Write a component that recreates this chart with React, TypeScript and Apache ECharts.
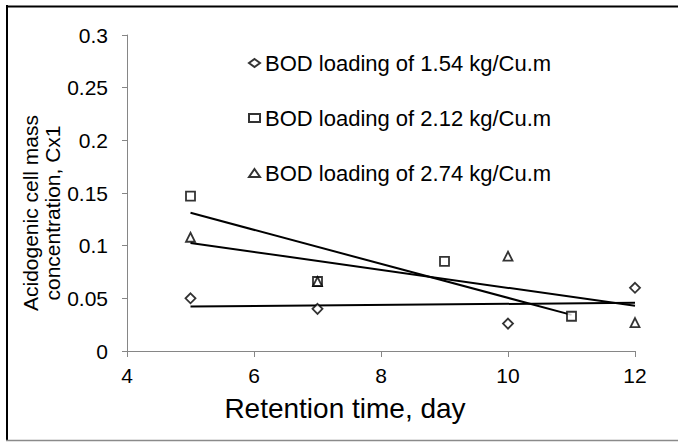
import React, { useEffect, useRef } from "react";
import * as echarts from "echarts";

const seriesNames = [
  "BOD loading of 1.54 kg/Cu.m",
  "BOD loading of 2.12 kg/Cu.m",
  "BOD loading of 2.74 kg/Cu.m",
];
const xs154 = [5, 7, 10, 12];
const ys154 = [0.05, 0.04, 0.026, 0.06];
const xs212 = [5, 7, 9, 11];
const ys212 = [0.147, 0.066, 0.085, 0.033];
const xs274 = [5, 7, 10, 12];
const ys274 = [0.108, 0.066, 0.09, 0.027];
const symbols = ["diamond", "rect", "triangle"];
const xTitle = "Retention time, day";
const yTitle = "Acidogenic cell mass\nconcentration, Cx1";

function trend(xs: number[], ys: number[]) {
  const n = xs.length;
  const mx = xs.reduce((a, b) => a + b, 0) / n;
  const my = ys.reduce((a, b) => a + b, 0) / n;
  let sxy = 0;
  let sxx = 0;
  for (let i = 0; i < n; i++) {
    sxy += (xs[i] - mx) * (ys[i] - my);
    sxx += (xs[i] - mx) * (xs[i] - mx);
  }
  const b = sxy / sxx;
  const a = my - b * mx;
  const x0 = Math.min(...xs);
  const x1 = Math.max(...xs);
  return [
    [x0, a + b * x0],
    [x1, a + b * x1],
  ];
}

const FONT = "'Liberation Sans', Arial, sans-serif";

export default function App() {
  const ref = useRef<HTMLDivElement>(null);
  useEffect(() => {
    if (!ref.current) return;
    const chart = echarts.init(ref.current, null, { renderer: "svg" });
    const sets = [
      [xs154, ys154],
      [xs212, ys212],
      [xs274, ys274],
    ];
    const scatter = sets.map(([xs, ys], i) => ({
      name: seriesNames[i],
      type: "scatter",
      symbol: symbols[i],
      symbolSize: i === 0 ? 10 : 9,
      itemStyle: { color: "#fff", borderColor: "#000", borderWidth: 1.8 },
      data: xs.map((x, j) => [x, ys[j]]),
      z: 3,
    }));
    const lines = sets.map(([xs, ys], i) => ({
      name: "trend" + i,
      type: "line",
      symbol: "none",
      lineStyle: { color: "#000", width: 2 },
      data: trend(xs, ys),
      z: 2,
    }));
    chart.setOption({
      animation: false,
      backgroundColor: "#fff",
      grid: { left: 127, right: 43, top: 35, bottom: 91 },
      legend: {
        data: seriesNames,
        orient: "vertical",
        left: 243,
        top: 47,
        itemWidth: 11,
        itemHeight: 8,
        itemGap: 33,
        textStyle: { fontFamily: FONT, fontSize: 22, color: "#000" },
      },
      xAxis: {
        type: "value",
        min: 4,
        max: 12,
        interval: 2,
        splitLine: { show: false },
        axisLine: { lineStyle: { color: "#868686", width: 1 } },
        axisTick: { show: true, length: 6, lineStyle: { color: "#868686" } },
        axisLabel: { fontFamily: FONT, fontSize: 21, color: "#000", margin: 14 },
      },
      yAxis: {
        type: "value",
        min: 0,
        max: 0.3,
        interval: 0.05,
        splitLine: { show: false },
        axisLine: { show: true, lineStyle: { color: "#868686", width: 1 } },
        axisTick: { show: true, length: 5, lineStyle: { color: "#868686" } },
        axisLabel: { fontFamily: FONT, fontSize: 21, color: "#000", margin: 19 },
      },
      graphic: [
        {
          type: "text",
          x: 345,
          y: 408,
          style: {
            text: xTitle,
            fontFamily: FONT,
            fontSize: 28,
            fill: "#000",
            align: "center",
            verticalAlign: "middle",
          },
        },
        {
          type: "text",
          x: 41,
          y: 213,
          rotation: Math.PI / 2,
          style: {
            text: yTitle,
            fontFamily: FONT,
            fontSize: 21,
            lineHeight: 22,
            fill: "#000",
            align: "center",
            verticalAlign: "middle",
          },
        },
        { type: "line", shape: { x1: 7, y1: 5, x2: 7, y2: 441 }, style: { stroke: "#000", lineWidth: 2 } },
        { type: "line", shape: { x1: 6, y1: 6.5, x2: 678, y2: 6.5 }, style: { stroke: "#000", lineWidth: 2 } },
        { type: "line", shape: { x1: 6, y1: 440.5, x2: 678, y2: 440.5 }, style: { stroke: "#8a8a8a", lineWidth: 1.5 } },
      ],
      series: [...scatter, ...lines],
    });
    return () => chart.dispose();
  }, []);
  return (
    <div
      ref={ref}
      style={{ position: "fixed", left: 0, top: 0, width: 678, height: 442 }}
    />
  );
}
